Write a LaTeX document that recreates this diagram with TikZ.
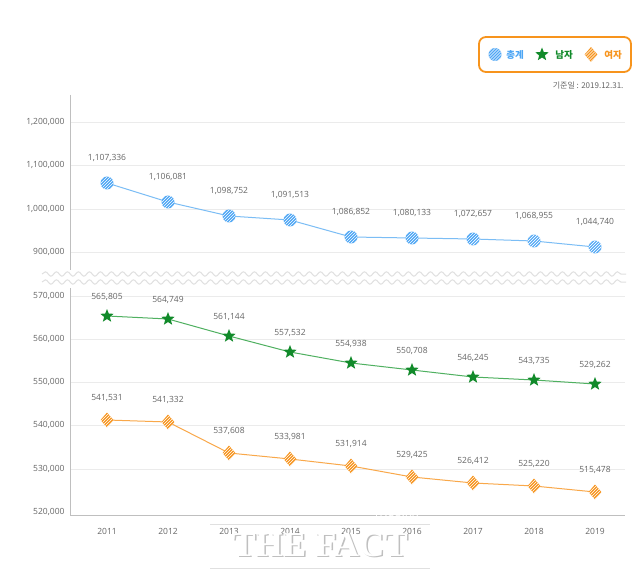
\documentclass[tikz,border=0pt]{standalone}
\usepackage{fontspec}
\setmainfont{Open Sans}
\newfontfamily\kr{Noto Sans CJK KR}
\newfontfamily\serifw{Liberation Serif}
\usetikzlibrary{shapes.geometric,decorations.pathmorphing,calc}
\definecolor{cb}{HTML}{4DA6F5}
\definecolor{cbl}{HTML}{7BBDF5}
\definecolor{cg}{HTML}{118A2A}
\definecolor{cgl}{HTML}{4FB060}
\definecolor{co}{HTML}{F7941D}
\definecolor{col}{HTML}{F9A84A}
\definecolor{tx}{HTML}{666666}
\tikzset{
 circ/.style={circle,fill=cb,minimum size=13pt,inner sep=0pt,path picture={\foreach \i in {-12,-9,...,15}{\draw[white,line width=0.7pt] ($(path picture bounding box.south west)+(\i pt,0)$) -- ++(14pt,14pt);}}},
 diam/.style={diamond,fill=co,minimum width=13pt,minimum height=15pt,inner sep=0pt,path picture={\foreach \i in {-12,-9,...,15}{\draw[white,line width=0.6pt] ($(path picture bounding box.south west)+(\i pt,0)$) -- ++(14pt,14pt);}}},
 starm/.style={star,star points=5,star point ratio=2.3,fill=cg,minimum size=14pt,inner sep=0pt},
 val/.style={font=\fontsize{8.5}{10}\selectfont,text=tx},
 ax/.style={font=\fontsize{8.5}{10}\selectfont,text=tx,anchor=east},
 grid/.style={draw=black!8,line width=0.6pt},
}
\begin{document}
\begin{tikzpicture}[x=1pt,y=-1pt]
\useasboundingbox[fill=white] (0,0) rectangle (640,580);
% grid and axes
\foreach \y/\l in {122/{1,200,000},165/{1,100,000},209/{1,000,000},252/{900,000},296/{570,000},339/{560,000},382/{550,000},425/{540,000},469/{530,000}}{
 \draw[grid] (70,\y) -- (625,\y);
 \node[ax] at (68,\y) {\l};}
\node[ax] at (68,512) {520,000};
\draw[black!25,line width=0.8pt] (70,95) -- (70,515) -- (625,515);
% break
\fill[white] (40,270) rectangle (628,288);
\foreach \y in {274,282}
 \draw[black!12,line width=1pt,decorate,decoration={snake,amplitude=2.2pt,segment length=11pt}] (42,\y) -- (626,\y);
% years
\foreach \i/\yr in {0/2011,1/2012,2/2013,3/2014,4/2015,5/2016,6/2017,7/2018,8/2019}
 \node[val] at (107+61*\i,531) {\yr};
% series
\foreach [count=\i from 0] \y/\l in {183/{1,107,336},202/{1,106,081},216/{1,098,752},220/{1,091,513},237/{1,086,852},238/{1,080,133},239/{1,072,657},241/{1,068,955},247/{1,044,740}}{
 \coordinate (t\i) at (107+61*\i,\y);
 \node[val] (tl\i) at (107+61*\i,\y-25) {\l};}
\draw[cbl,line width=1pt] (t0)--(t1)--(t2)--(t3)--(t4)--(t5)--(t6)--(t7)--(t8);
\foreach \i in {0,...,8} \node[circ] (tm\i) at (t\i) {};
\foreach [count=\i from 0] \y/\l in {316/{565,805},319/{564,749},336/{561,144},352/{557,532},363/{554,938},370/{550,708},377/{546,245},380/{543,735},384/{529,262}}{
 \coordinate (g\i) at (107+61*\i,\y);
 \node[val] (gl\i) at (107+61*\i,\y-19) {\l};}
\draw[cgl,line width=1pt] (g0)--(g1)--(g2)--(g3)--(g4)--(g5)--(g6)--(g7)--(g8);
\foreach \i in {0,...,8} \node[starm] (gm\i) at (g\i) {};
\foreach [count=\i from 0] \y/\l in {420/{541,531},422/{541,332},453/{537,608},459/{533,981},466/{531,914},477/{529,425},483/{526,412},486/{525,220},492/{515,478}}{
 \coordinate (o\i) at (107+61*\i,\y);
 \node[val] (ol\i) at (107+61*\i,\y-22) {\l};}
\draw[col,line width=1pt] (o0)--(o1)--(o2)--(o3)--(o4)--(o5)--(o6)--(o7)--(o8);
\foreach \i in {0,...,8} \node[diam] (om\i) at (o\i) {};
% legend
\draw[co,line width=1.8pt,rounded corners=7pt] (479,37) rectangle (631,72);
\node[circ] (lg1) at (495,54.5) {};
\node[font=\kr\bfseries\fontsize{9.5}{10}\selectfont,text=cb] (lt1) at (515,54.5) {총계};
\node[starm] (lg2) at (542,54.5) {};
\node[font=\kr\bfseries\fontsize{9.5}{10}\selectfont,text=cg] (lt2) at (564,54.5) {남자};
\node[diam] (lg3) at (591,54.5) {};
\node[font=\kr\bfseries\fontsize{9.5}{10}\selectfont,text=co] (lt3) at (613,54.5) {여자};
\node[font=\kr\fontsize{8}{9}\selectfont,text=tx,anchor=east] (date) at (627,86) {기준일 : 2019.12.31.};
% watermark
\node[font=\fontsize{11}{12}\selectfont,text=white] (wm1) at (396,513) {TF.CO.KR};
\node[font=\serifw\bfseries\fontsize{35}{36}\selectfont,text=black!25] (wm2) at (321.5,546.5) {THE FACT};
\node[font=\serifw\bfseries\fontsize{35}{36}\selectfont,text=white] (wm3) at (320,545) {THE FACT};
\draw[black!12,line width=0.8pt] (210,524) -- (430,524) (210,568) -- (430,568);
\end{tikzpicture}
\end{document}
